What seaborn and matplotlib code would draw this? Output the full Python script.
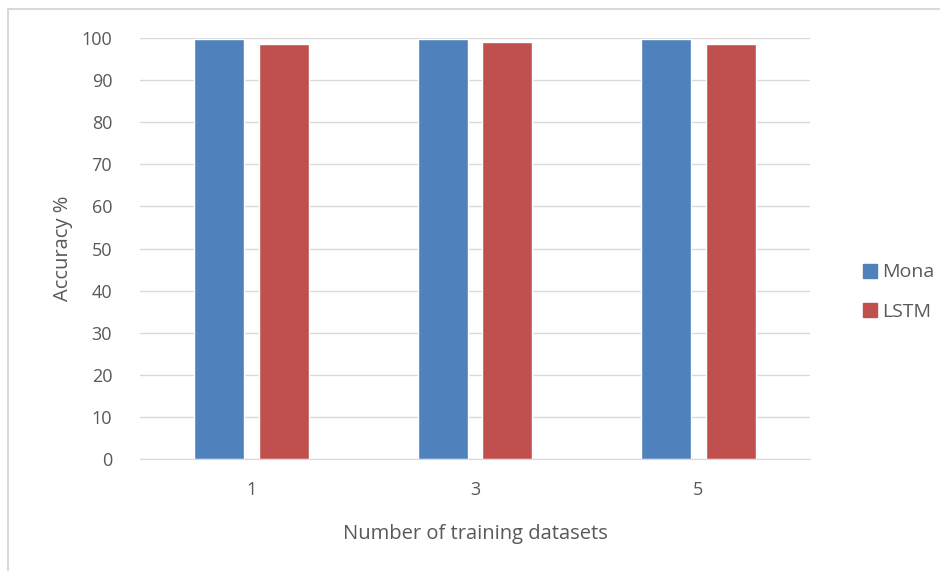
import matplotlib
matplotlib.use("Agg")
import matplotlib.pyplot as plt
import pandas as pd
import seaborn as sns
from matplotlib.lines import Line2D

datasets = ["1", "3", "5"]
mona_acc = [99.8, 99.8, 99.8]
lstm_acc = [98.6, 99.0, 98.6]
models = ["Mona", "LSTM"]
colors = ["#4F81BD", "#C0504D"]
y_ticks = list(range(0, 101, 10))

df = pd.DataFrame({
    "dataset": datasets * 2,
    "accuracy": mona_acc + lstm_acc,
    "model": [models[0]] * len(datasets) + [models[1]] * len(datasets),
})

sns.set_style("white")
plt.rcParams["font.family"] = ["Open Sans", "DejaVu Sans"]
text_color = "#595959"

fig = plt.figure(figsize=(9.4, 5.71), dpi=100)
ax = fig.add_axes([140 / 940, 1 - 459 / 571, 670 / 940, 421 / 571])

sns.barplot(data=df, x="dataset", y="accuracy", hue="model", palette=colors,
            width=0.58, gap=0.23, ax=ax, legend=False, saturation=1)

ax.set_ylim(0, 100)
ax.set_xlim(-0.5, 2.5)
ax.set_yticks(y_ticks)
ax.yaxis.grid(True, color="#d9d9d9", linewidth=1)
ax.set_axisbelow(True)
for side in ["left", "right", "top"]:
    ax.spines[side].set_visible(False)
ax.spines["bottom"].set_color("#d9d9d9")
ax.tick_params(axis="both", length=0, labelsize=13, colors=text_color)
ax.tick_params(axis="x", pad=16)
ax.tick_params(axis="y", pad=20)
ax.set_xlabel("Number of training datasets", fontsize=14.5, color=text_color, labelpad=18)
ax.set_ylabel("Accuracy %", fontsize=14.5, color=text_color, labelpad=6)

handles = [Line2D([0], [0], marker="s", linestyle="", markersize=10,
                  markerfacecolor=c, markeredgecolor=c) for c in colors]
fig.legend(handles, models, loc="center left", bbox_to_anchor=(843 / 940, 1 - 292 / 571),
           frameon=False, fontsize=14, labelcolor=text_color, handletextpad=0.1,
           labelspacing=1.1, handlelength=1.0)

# outer chart frame (left and top edges visible)
fig.add_artist(Line2D([8 / 940, 8 / 940], [0, 1 - 9 / 571], color="#d9d9d9",
                      linewidth=1.5, transform=fig.transFigure))
fig.add_artist(Line2D([8 / 940, 1], [1 - 9 / 571, 1 - 9 / 571], color="#d9d9d9",
                      linewidth=1.5, transform=fig.transFigure))

fig.savefig("out.png", dpi=100, facecolor="white")
